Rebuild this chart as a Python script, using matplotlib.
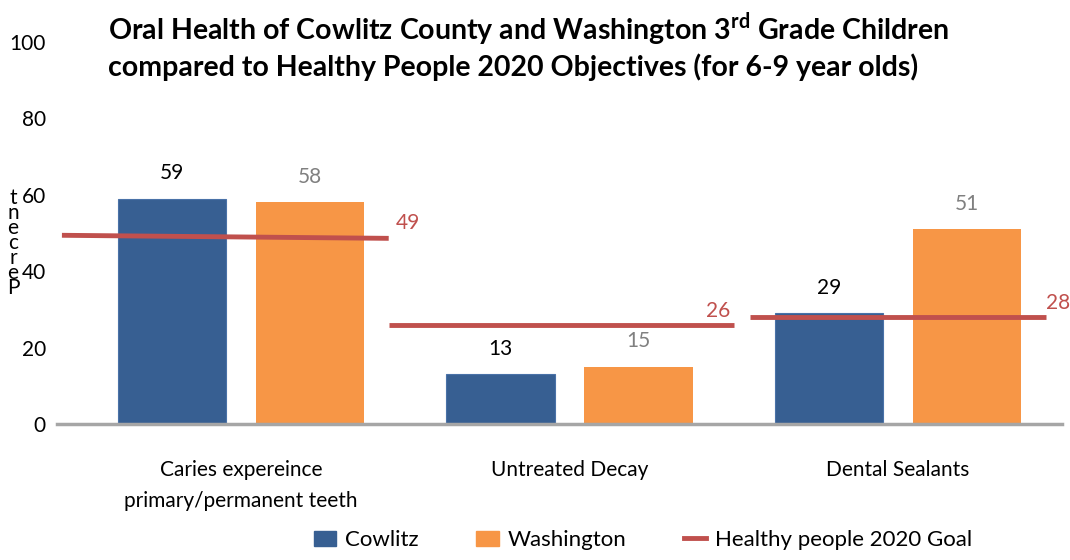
import matplotlib
matplotlib.use("Agg")
import matplotlib.pyplot as plt
import numpy as np
from matplotlib.lines import Line2D
from matplotlib.patches import Patch

categories = ["Caries expereince\nprimary/permanent teeth", "Untreated Decay", "Dental Sealants"]
cowlitz = [59, 13, 29]
washington = [58, 15, 51]
goal = [49, 26, 28]
yticks = [0, 20, 40, 60, 80, 100]

c_blue = "#375F92"
c_orange = "#F79646"
c_red = "#C0504D"

plt.rcParams['font.family'] = ['Lato', 'DejaVu Sans']
plt.rcParams['mathtext.fontset'] = 'custom'
plt.rcParams['mathtext.bf'] = 'Lato:bold'
plt.rcParams['mathtext.rm'] = 'Lato'

fig = plt.figure(figsize=(10.7, 5.6), dpi=100)
ax = fig.add_axes([57/1070, 1-424/560, (1062-57)/1070, (424-42)/560])

x = np.arange(len(categories))
w = 0.33
off = 0.21
b1 = ax.bar(x - off, cowlitz, w, color=c_blue, edgecolor="#4A72A8", linewidth=0.8)
b2 = ax.bar(x + off, washington, w, color=c_orange)

for xi, v in zip(x, cowlitz):
    ax.text(xi - off, v + 4, f"{v}", ha="center", va="bottom", fontsize=15, color="black")
for xi, v in zip(x, washington):
    ax.text(xi + off, v + 4, f"{v}", ha="center", va="bottom", fontsize=15, color="#808080")

spans = [(-0.545, 0.45), (0.45, 1.5), (1.55, 2.45)]
for i, g in enumerate(goal):
    a, b = spans[i]
    ax.plot([a, b], [g + 0.4, g - 0.4] if i == 0 else [g, g], color=c_red, lw=3.5, solid_capstyle="butt", zorder=5)
label_pos = [(0.47, 'left'), (1.49, 'right'), (2.45, 'left')]
for i, g in enumerate(goal):
    px, ha = label_pos[i]
    ax.text(px, g + 1.0, f"{g}", ha=ha, va="bottom", fontsize=15, color=c_red, clip_on=False)

ax.set_xlim(-0.56, 2.5)
ax.set_ylim(0, 100)
ax.set_yticks(yticks)
ax.set_xticks(x)
ax.set_xticklabels(categories, fontsize=15, linespacing=1.65)
ax.tick_params(axis='both', length=0, labelsize=15)
ax.tick_params(axis='x', pad=26)
ax.tick_params(axis='y', pad=8)
for s in ["top", "right", "left"]:
    ax.spines[s].set_visible(False)
ax.spines["bottom"].set_color("#A6A6A6")
ax.spines["bottom"].set_linewidth(2.5)

fig.text(13/1070, 1-243/560, "t\nn\ne\nc\nr\ne\nP", fontsize=15, ha="center", va="center", linespacing=0.68)

fig.text(108/1070, 1-10/560, r"Oral Health of Cowlitz County and Washington 3$^{\bf rd}$ Grade Children" + "\n" +
         "compared to Healthy People 2020 Objectives (for 6-9 year olds)",
         fontsize=20.5, fontweight="bold", ha="left", va="top", linespacing=1.25)

handles = [Patch(color=c_blue, label="Cowlitz"), Patch(color=c_orange, label="Washington"),
           Line2D([0], [0], color=c_red, lw=3.5, label="Healthy people 2020 Goal")]
fig.legend(handles=handles, loc="lower center", bbox_to_anchor=(643/1070, -0.018), ncol=3, frameon=False,
           fontsize=16, handlelength=1.0, handleheight=0.7, columnspacing=2.6, handletextpad=0.4)

fig.savefig("out.png", dpi=100)
